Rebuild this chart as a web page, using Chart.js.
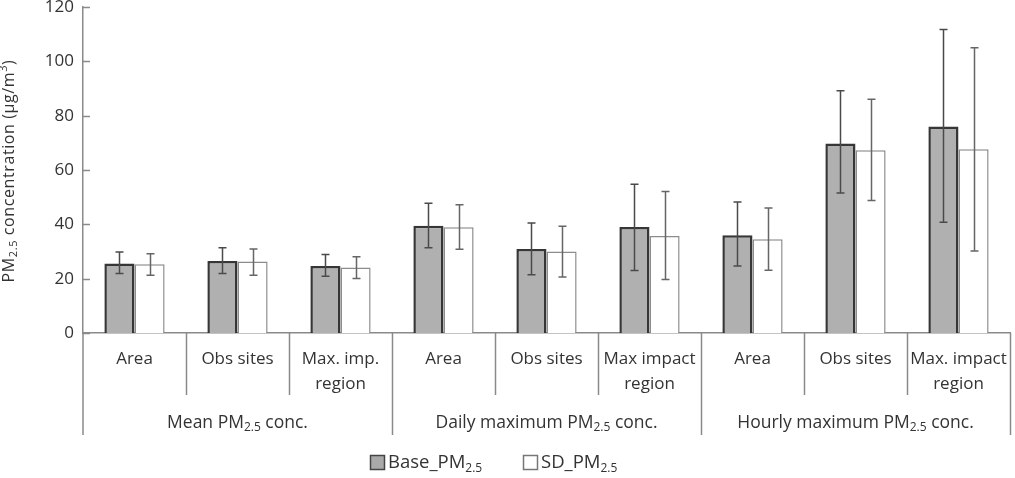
<!DOCTYPE html>
<html>
<head>
<meta charset="utf-8">
<script src="https://cdn.jsdelivr.net/npm/chart.js@4.4.1/dist/chart.umd.min.js"></script>
<style>
html,body{margin:0;padding:0;background:#fff;}
#wrap{width:1015px;height:478px;position:relative;}
</style>
</head>
<body>
<div id="wrap"><canvas id="c" width="1015" height="478"></canvas></div>
<script>
// ---- data ----
const categories = [
  "Area", "Obs sites", ["Max. imp.", "region"],
  "Area", "Obs sites", ["Max impact", "region"],
  "Area", "Obs sites", ["Max. impact", "region"]
];
const groups = [
  {main: "Mean PM", sub: "2.5", tail: " conc.", span: 3},
  {main: "Daily maximum PM", sub: "2.5", tail: " conc.", span: 3},
  {main: "Hourly maximum PM", sub: "2.5", tail: " conc.", span: 3}
];
const baseValues = [25.6, 26.5, 24.7, 39.5, 30.9, 39.0, 36.0, 69.8, 76.0];
const baseErrHigh = [29.8, 31.4, 28.9, 47.8, 40.5, 54.8, 48.2, 89.2, 111.7];
const baseErrLow  = [21.9, 21.9, 20.9, 31.4, 21.4, 23.0, 24.7, 51.5, 40.8];
const sdValues = [25.3, 26.3, 24.1, 38.9, 30.0, 35.7, 34.5, 67.3, 67.6];
const sdErrHigh = [29.2, 30.9, 28.1, 47.2, 39.3, 52.1, 46.0, 86.0, 105.0];
const sdErrLow  = [21.3, 21.3, 20.1, 30.8, 20.6, 19.7, 23.1, 48.8, 30.2];
const yTicks = [0, 20, 40, 60, 80, 100, 120];

const TEXT = '#333333';
const AXIS = '#8a8a8a';
const FONT = '"Open Sans", sans-serif';

function drawRich(ctx, parts, x, y, size, align, spacing) {
  ctx.letterSpacing = (spacing || 0) + 'px';
  let total = 0;
  const fs = p => (p.mode === 'n' ? size : Math.round(size * 0.66));
  const widths = parts.map(p => {
    ctx.font = fs(p) + 'px ' + FONT;
    const w = ctx.measureText(p.t).width;
    total += w;
    return w;
  });
  let cx = align === 'center' ? x - total / 2 : x;
  parts.forEach((p, i) => {
    ctx.font = fs(p) + 'px ' + FONT;
    let dy = 0;
    if (p.mode === 'sub') dy = size * 0.28;
    if (p.mode === 'sup') dy = -size * 0.35;
    ctx.textAlign = 'left';
    ctx.fillText(p.t, cx, y + dy);
    cx += widths[i];
  });
  ctx.letterSpacing = '0px';
  return total;
}

const decorPlugin = {
  id: 'decor',
  afterDraw(chart) {
    const ctx = chart.ctx;
    const x = chart.scales.x, y = chart.scales.y;
    const area = chart.chartArea;
    const n = categories.length;
    ctx.save();
    ctx.strokeStyle = AXIS;
    ctx.lineWidth = 1.5;
    // y axis tick marks (inward)
    yTicks.forEach(v => {
      const py = Math.round(y.getPixelForValue(v)) + 0.5;
      ctx.beginPath();
      ctx.moveTo(area.left, py);
      ctx.lineTo(area.left + 7, py);
      ctx.stroke();
    });
    // left axis extension down to bottom of group row
    const groupBottom = 435, innerBottom = 395;
    ctx.beginPath();
    ctx.moveTo(area.left, area.bottom);
    ctx.lineTo(area.left, groupBottom);
    ctx.stroke();
    // separators
    let idx = 0;
    const groupEnds = [];
    groups.forEach(g => { idx += g.span; groupEnds.push(idx); });
    for (let i = 1; i <= n; i++) {
      const px = Math.round(x.getPixelForValue(i - 0.5)) + 0.5;
      const isGroup = groupEnds.includes(i);
      ctx.beginPath();
      ctx.moveTo(px, area.bottom);
      ctx.lineTo(px, isGroup ? groupBottom : innerBottom);
      ctx.stroke();
    }
    // group labels
    ctx.fillStyle = TEXT;
    ctx.textBaseline = 'middle';
    let start = 0;
    groups.forEach(g => {
      const cx = (x.getPixelForValue(start - 0.5) + x.getPixelForValue(start + g.span - 0.5)) / 2;
      drawRich(ctx, [{t: g.main, mode: 'n'}, {t: g.sub, mode: 'sub'}, {t: g.tail, mode: 'n'}], cx, 423, 17.5, 'center');
      start += g.span;
    });
    // y-axis title
    ctx.save();
    ctx.translate(9, 171);
    ctx.rotate(-Math.PI / 2);
    drawRich(ctx, [
      {t: 'PM', mode: 'n'}, {t: '2.5', mode: 'sub'},
      {t: ' concentration (', mode: 'n'}, {t: 'µ', mode: 'n'}, {t: 'g/m', mode: 'n'},
      {t: '3', mode: 'sup'}, {t: ')', mode: 'n'}
    ], 0, 0, 16, 'center', 0.6);
    ctx.restore();
    // legend
    const ly = 463;
    ctx.lineWidth = 1.5;
    ctx.fillStyle = '#a9a9a9';
    ctx.fillRect(370.5, ly - 7.5, 14, 14);
    ctx.strokeStyle = '#444';
    ctx.strokeRect(370.5, ly - 7.5, 14, 14);
    ctx.fillStyle = TEXT;
    drawRich(ctx, [{t: 'Base_PM', mode: 'n'}, {t: '2.5', mode: 'sub'}], 388, ly, 18.5, 'left');
    ctx.fillStyle = '#fff';
    ctx.fillRect(523.5, ly - 7.5, 14, 14);
    ctx.strokeStyle = '#777';
    ctx.strokeRect(523.5, ly - 7.5, 14, 14);
    ctx.fillStyle = TEXT;
    drawRich(ctx, [{t: 'SD_PM', mode: 'n'}, {t: '2.5', mode: 'sub'}], 541, ly, 18.5, 'left');
    ctx.restore();
  },
  afterDatasetsDraw(chart) {
    const ctx = chart.ctx;
    const y = chart.scales.y;
    const errs = [[baseErrLow, baseErrHigh, '#4a4a4a'], [sdErrLow, sdErrHigh, '#666666']];
    ctx.save();
    chart.data.datasets.forEach((ds, di) => {
      const meta = chart.getDatasetMeta(di);
      const [lo, hi, col] = errs[di];
      ctx.strokeStyle = col;
      ctx.lineWidth = 1.5;
      meta.data.forEach((el, i) => {
        const px = Math.round(el.x) + 0.5;
        const yl = y.getPixelForValue(lo[i]);
        const yh = y.getPixelForValue(hi[i]);
        ctx.beginPath();
        ctx.moveTo(px, yl); ctx.lineTo(px, yh);
        ctx.moveTo(px - 4, yh); ctx.lineTo(px + 4, yh);
        ctx.moveTo(px - 4, yl); ctx.lineTo(px + 4, yl);
        ctx.stroke();
      });
    });
    ctx.restore();
  }
};

new Chart(document.getElementById('c'), {
  type: 'bar',
  data: {
    labels: categories,
    datasets: [
      {label: 'Base_PM2.5', data: baseValues, backgroundColor: '#b0b0b0', borderColor: '#363636', borderWidth: 2.5, barPercentage: 1, categoryPercentage: 0.585},
      {label: 'SD_PM2.5', data: sdValues, backgroundColor: '#ffffff', borderColor: '#8c8c8c', borderWidth: 1.5, barPercentage: 1, categoryPercentage: 0.585}
    ]
  },
  options: {
    responsive: false,
    animation: false,
    devicePixelRatio: 1,
    layout: {padding: {top: 7, right: 5, left: 0, bottom: 0}},
    plugins: {legend: {display: false}, tooltip: {enabled: false}},
    scales: {
      x: {
        offset: true,
        grid: {display: false, drawTicks: false},
        border: {display: true, color: AXIS, width: 1.5},
        ticks: {color: TEXT, font: {family: FONT, size: 17, lineHeight: 1.47}, padding: 14, maxRotation: 0, autoSkip: false},
        afterFit(s) { s.height = 145; s.paddingLeft = 0; s.paddingRight = 0; }
      },
      y: {
        min: 0, max: 120,
        afterBuildTicks(s) { s.ticks = yTicks.map(v => ({value: v})); },
        grid: {display: false, drawTicks: false},
        border: {display: true, color: AXIS, width: 1.5},
        ticks: {color: TEXT, font: {family: FONT, size: 17}, padding: 9},
        afterFit(s) { s.width = 83; s.paddingTop = 0; s.paddingBottom = 0; }
      }
    }
  },
  plugins: [decorPlugin]
});
</script>
</body>
</html>
